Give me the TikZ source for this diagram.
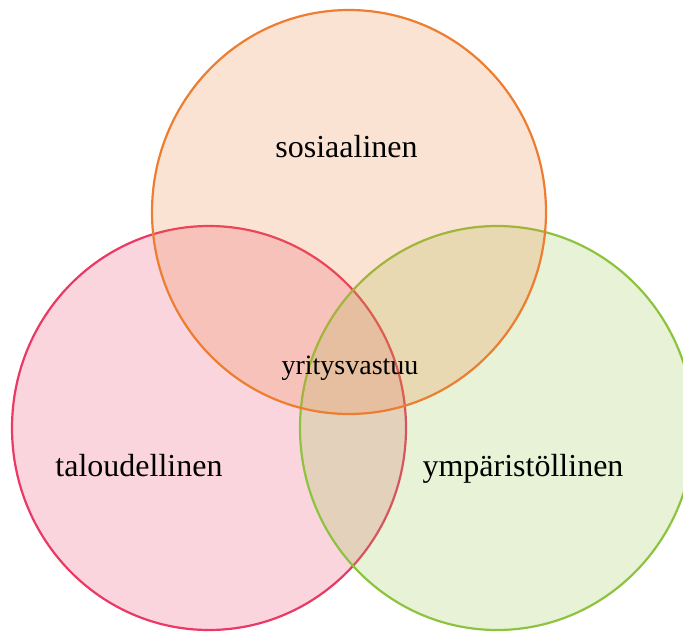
\documentclass[tikz,border=0pt]{standalone}
\usepackage{fontspec}
\setmainfont{Liberation Serif}
\definecolor{orangeline}{RGB}{237,125,49}
\definecolor{redline}{RGB}{233,57,100}
\definecolor{greenline}{RGB}{141,195,63}

\begin{document}
\begin{tikzpicture}[x=1pt,y=-1pt]
    \tikzset{
        area/.style={line width=2.2pt, fill opacity=0.21},
        label/.style={font=\fontsize{32}{38}\selectfont, anchor=base},
        core/.style={font=\fontsize{28}{33}\selectfont, anchor=base},
    };
    \useasboundingbox (0,0) rectangle (683,632);
    % the three areas
    \filldraw [area, draw=redline, fill=redline] (209,428) ellipse [x radius=197, y radius=202];
    \filldraw [area, draw=greenline, fill=greenline] (497,428) ellipse [x radius=197, y radius=202];
    \filldraw [area, draw=orangeline, fill=orangeline] (349,212) ellipse [x radius=197, y radius=202];
    % labels
    \node [label] (sos) at (346.5,157) {sosiaalinen};
    \node [label] (tal) at (139,476) {taloudellinen};
    \node [label] (ymp) at (523,476) {ympäristöllinen};
    \node [core] (vastuu) at (350,374) {yritysvastuu};
\end{tikzpicture}
\end{document}
